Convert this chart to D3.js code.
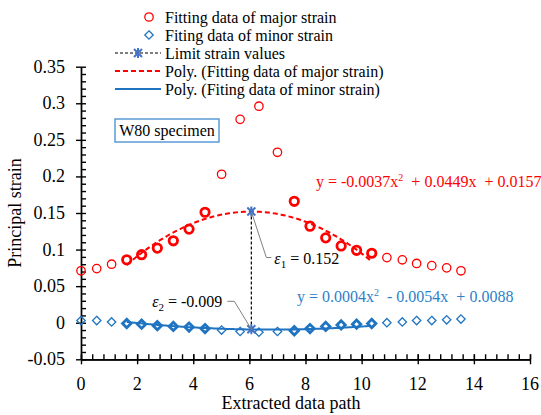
<!DOCTYPE html>
<html>
<head>
<meta charset="utf-8">
<script src="https://cdn.jsdelivr.net/npm/d3@7"></script>
<style>
  body { margin: 0; background: #fff; }
  svg text { font-family: "Liberation Serif", "DejaVu Serif", serif; }
</style>
</head>
<body>
<svg id="chart"></svg>
<script>
var width = 541;
var height = 415;

// extracted data path positions (shared by both series)
var pathX = [0, 0.56, 1.09, 1.63, 2.16, 2.72, 3.29, 3.85, 4.42, 5.01, 5.67, 6.34, 7.0,
             7.6, 8.16, 8.72, 9.27, 9.82, 10.36, 10.9, 11.45, 11.96, 12.5, 13.03, 13.54];
var majorStrain = [0.071, 0.074, 0.080, 0.086, 0.093, 0.102, 0.112, 0.128, 0.151, 0.203, 0.278, 0.296, 0.233,
                   0.166, 0.132, 0.116, 0.105, 0.099, 0.095, 0.089, 0.086, 0.081, 0.078, 0.075, 0.071];
var minorStrain = [0.003, 0.003, 0.001, -0.001, -0.002, -0.004, -0.005, -0.006, -0.008, -0.010, -0.012, -0.013, -0.012,
                   -0.011, -0.008, -0.005, -0.003, -0.002, -0.001, 0.000, 0.001, 0.003, 0.003, 0.004, 0.005];
// points used for the fitting
var fitIdx = [3, 4, 5, 6, 7, 8, 13, 14, 15, 16, 17, 18];

var majorCoef = [-0.0037, 0.0449, 0.0157];
var minorCoef = [0.0004, -0.0054, 0.0088];

var limitX = [6.07, 6.07];
var limitY = [0.152, -0.009];

var legendLabels = ["Fitting data of major strain", "Fiting data of minor strain", "Limit strain values",
                    "Poly. (Fitting data of major strain)", "Poly. (Fiting data of minor strain)"];

var xTicks = [0, 2, 4, 6, 8, 10, 12, 14, 16];
var yTicks = [-0.05, 0, 0.05, 0.1, 0.15, 0.2, 0.25, 0.3, 0.35];

var red = "#ff0000";
var blue = "#1f74c2";
var star = "#4472c4";

var svg = d3.select("#chart")
    .attr("width", width)
    .attr("height", height);

var xScale = d3.scaleLinear().domain([0, 16]).range([81, 530]);
var yScale = d3.scaleLinear().domain([-0.05, 0.35]).range([359.3, 66.7]);

// axes: major ticks cross the line, minor ticks point inward
var xMinor = d3.range(0, 41).map(function(i) { return +(i * 0.4).toFixed(1); });
var yMinor = d3.range(0, 41).map(function(i) { return +(-0.05 + i * 0.01).toFixed(2); });

var gx = svg.append("g").attr("transform", "translate(0," + yScale(-0.05) + ")");
gx.call(d3.axisBottom(xScale).tickValues(xTicks).tickSize(5).tickSizeOuter(0).tickFormat(""));
gx.append("g").call(d3.axisTop(xScale).tickValues(xMinor).tickSize(5).tickSizeOuter(0).tickFormat(""));
gx.append("g").call(d3.axisTop(xScale).tickValues(xTicks).tickSize(5).tickSizeOuter(0).tickFormat(""));

var gy = svg.append("g").attr("transform", "translate(" + xScale(0) + ",0)");
gy.call(d3.axisLeft(yScale).tickValues(yTicks).tickSize(5).tickSizeOuter(0).tickFormat(""));
gy.append("g").call(d3.axisRight(yScale).tickValues(yMinor).tickSize(5).tickSizeOuter(0).tickFormat(""));

svg.selectAll(".domain, .tick line").attr("stroke", "#000").attr("stroke-width", 1.4);

svg.selectAll(".xlab").data(xTicks).enter().append("text")
    .attr("x", function(d) { return xScale(d); })
    .attr("y", 389.5)
    .attr("text-anchor", "middle")
    .attr("font-size", 18)
    .text(function(d) { return d; });

svg.selectAll(".ylab").data(yTicks).enter().append("text")
    .attr("x", 65)
    .attr("y", function(d) { return yScale(d) + 6; })
    .attr("text-anchor", "end")
    .attr("font-size", 18)
    .text(function(d) { return String(d); });

svg.append("text")
    .attr("x", 291).attr("y", 409)
    .attr("text-anchor", "middle").attr("font-size", 18)
    .text("Extracted data path");

svg.append("text")
    .attr("transform", "translate(21,213) rotate(-90)")
    .attr("text-anchor", "middle").attr("font-size", 18)
    .text("Principal strain");

// fitted polynomial curves
function poly(c, x) { return c[0] * x * x + c[1] * x + c[2]; }
var fitRange = d3.range(pathX[fitIdx[0]], pathX[fitIdx[fitIdx.length - 1]] + 0.001, 0.05);
var line = d3.line()
    .x(function(d) { return xScale(d[0]); })
    .y(function(d) { return yScale(d[1]); });

svg.append("path")
    .attr("d", line(fitRange.map(function(x) { return [x, poly(majorCoef, x)]; })))
    .attr("fill", "none").attr("stroke", red).attr("stroke-width", 2)
    .attr("stroke-dasharray", "5,3");

svg.append("path")
    .attr("d", line(fitRange.map(function(x) { return [x, poly(minorCoef, x)]; })))
    .attr("fill", "none").attr("stroke", blue).attr("stroke-width", 2);

// data markers
var diamond = "M0,-4.2L4.2,0L0,4.2L-4.2,0Z";

svg.selectAll(".maj").data(pathX).enter().append("circle")
    .attr("cx", function(d) { return xScale(d); })
    .attr("cy", function(d, i) { return yScale(majorStrain[i]); })
    .attr("r", 4.2)
    .attr("fill", "none").attr("stroke", red).attr("stroke-width", 1.3);

svg.selectAll(".majfit").data(fitIdx).enter().append("circle")
    .attr("cx", function(i) { return xScale(pathX[i]); })
    .attr("cy", function(i) { return yScale(majorStrain[i]); })
    .attr("r", 4.2)
    .attr("fill", "none").attr("stroke", red).attr("stroke-width", 2.8);

svg.selectAll(".min").data(pathX).enter().append("path")
    .attr("d", diamond)
    .attr("transform", function(d, i) { return "translate(" + xScale(d) + "," + yScale(minorStrain[i]) + ")"; })
    .attr("fill", "none").attr("stroke", blue).attr("stroke-width", 1.3);

svg.selectAll(".minfit").data(fitIdx).enter().append("path")
    .attr("d", diamond)
    .attr("transform", function(i) { return "translate(" + xScale(pathX[i]) + "," + yScale(minorStrain[i]) + ")"; })
    .attr("fill", "none").attr("stroke", blue).attr("stroke-width", 2.8);

// limit strain values
svg.append("path")
    .attr("d", line(limitX.map(function(x, i) { return [x, limitY[i]]; })))
    .attr("fill", "none").attr("stroke", "#000").attr("stroke-width", 1.2)
    .attr("stroke-dasharray", "3,2");

var starPath = "M-4,-4L4,4M-4,4L4,-4M0,-5L0,5";
svg.selectAll(".lim").data(limitX).enter().append("path")
    .attr("d", starPath)
    .attr("transform", function(d, i) { return "translate(" + xScale(d) + "," + yScale(limitY[i]) + ")"; })
    .attr("stroke", star).attr("stroke-width", 2);

// callouts
var p1x = xScale(limitX[0]), p1y = yScale(limitY[0]);
var p2x = xScale(limitX[1]), p2y = yScale(limitY[1]);
svg.append("path")
    .attr("d", "M" + p1x + "," + p1y + "L" + (p1x + 15) + "," + (p1y + 46) + "h5")
    .attr("fill", "none").attr("stroke", "#808080").attr("stroke-width", 1);
svg.append("path")
    .attr("d", "M" + p2x + "," + p2y + "L" + (p2x - 17) + "," + (p2y - 28) + "h-7")
    .attr("fill", "none").attr("stroke", "#808080").attr("stroke-width", 1);

var e1 = svg.append("text").attr("x", p1x + 23).attr("y", p1y + 52).attr("font-size", 16);
e1.append("tspan").attr("font-style", "italic").text("ε");
e1.append("tspan").attr("font-size", 11).attr("dy", 4).text("1");
e1.append("tspan").attr("dy", -4).text(" = " + limitY[0].toFixed(3));

var e2 = svg.append("text").attr("x", p2x - 29).attr("y", p2y - 22).attr("font-size", 16)
    .attr("text-anchor", "end");
e2.append("tspan").attr("font-style", "italic").text("ε");
e2.append("tspan").attr("font-size", 11).attr("dy", 4).text("2");
e2.append("tspan").attr("dy", -4).text(" = " + limitY[1].toFixed(3));

// trendline equations
function eqText(x, y, c, color) {
  var t = svg.append("text").attr("x", x).attr("y", y).attr("font-size", 16).attr("fill", color)
      .attr("xml:space", "preserve");
  function f(v) { return Math.abs(v).toFixed(4); }
  t.append("tspan").text("y = " + (c[0] < 0 ? "-" : "") + f(c[0]) + "x");
  t.append("tspan").attr("font-size", 10).attr("dy", -6).text("2");
  t.append("tspan").attr("dy", 6).text("  " + (c[1] < 0 ? "-" : "+") + " " + f(c[1]) + "x  " +
      (c[2] < 0 ? "-" : "+") + " " + f(c[2]));
}
eqText(316, 187, majorCoef, red);
eqText(297, 301.5, minorCoef, "#2e80c8");

// specimen label
svg.append("rect")
    .attr("x", 115).attr("y", 119).attr("width", 104).attr("height", 23)
    .attr("fill", "#fff").attr("stroke", "#5b9bd5").attr("stroke-width", 1.5);
svg.append("text")
    .attr("x", 167).attr("y", 136).attr("text-anchor", "middle").attr("font-size", 16)
    .text("W80 specimen");

// legend
var legY = [17, 35, 53, 71, 89];
var legX = 165;
var lg = svg.append("g");
legendLabels.forEach(function(label, i) {
  lg.append("text").attr("x", legX).attr("y", legY[i] + 5.5).attr("font-size", 16).text(label);
});
lg.append("circle").attr("cx", legX - 16).attr("cy", legY[0]).attr("r", 4.2)
    .attr("fill", "none").attr("stroke", red).attr("stroke-width", 1.3);
lg.append("path").attr("d", diamond).attr("transform", "translate(" + (legX - 16) + "," + legY[1] + ")")
    .attr("fill", "none").attr("stroke", blue).attr("stroke-width", 1.3);
lg.append("line").attr("x1", legX - 50).attr("x2", legX - 4).attr("y1", legY[2]).attr("y2", legY[2])
    .attr("stroke", "#000").attr("stroke-width", 1.2).attr("stroke-dasharray", "3,2");
lg.append("path").attr("d", starPath).attr("transform", "translate(" + (legX - 27) + "," + legY[2] + ")")
    .attr("stroke", star).attr("stroke-width", 2);
lg.append("line").attr("x1", legX - 50).attr("x2", legX - 4).attr("y1", legY[3]).attr("y2", legY[3])
    .attr("stroke", red).attr("stroke-width", 2).attr("stroke-dasharray", "5,3");
lg.append("line").attr("x1", legX - 50).attr("x2", legX - 4).attr("y1", legY[4]).attr("y2", legY[4])
    .attr("stroke", blue).attr("stroke-width", 2);
</script>
</body>
</html>
